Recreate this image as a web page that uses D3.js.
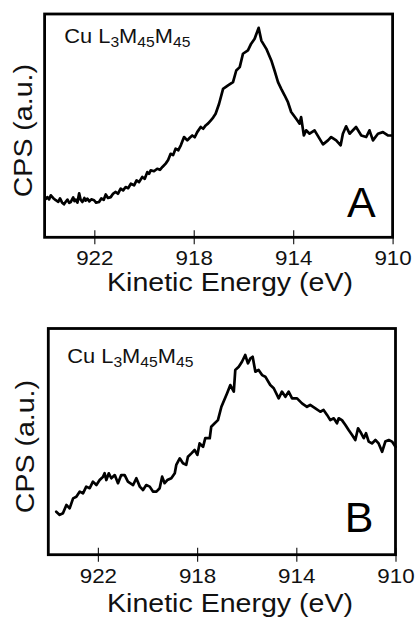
<!DOCTYPE html>
<html>
<head>
<meta charset="utf-8">
<script src="https://cdn.jsdelivr.net/npm/d3@7"></script>
<style>
  html, body { margin: 0; padding: 0; background: #fff; }
  svg { display: block; }
</style>
</head>
<body>
<svg id="fig" width="417" height="621"></svg>
<script>
// Cu L3M45M45 Auger spectra, two samples (A, B)
const energyTicks = [922, 918, 914, 910];
const energyDomain = [924, 910];
const panelLetters = ["A", "B"];
const xTitle = "Kinetic Energy (eV)";
const yTitle = "CPS (a.u.)";

// Panel A: kinetic energy (eV) and intensity (arbitrary units)
const energyA = [923.95, 923.89, 923.82, 923.75, 923.65, 923.55, 923.45, 923.38, 923.30, 923.22,
  923.15, 923.08, 923.01, 922.95, 922.85, 922.80, 922.75, 922.68, 922.61, 922.55,
  922.48, 922.40, 922.35, 922.28, 922.20, 922.12, 922.01, 921.93, 921.81, 921.72,
  921.62, 921.54, 921.45, 921.34, 921.24, 921.14, 921.05, 920.94, 920.84, 920.74,
  920.64, 920.53, 920.40, 920.30, 920.20, 920.07, 919.97, 919.87, 919.80, 919.73,
  919.60, 919.47, 919.36, 919.26, 919.13, 919.03, 918.93, 918.83, 918.73, 918.62,
  918.52, 918.39, 918.26, 918.16, 918.06, 917.96, 917.86, 917.72, 917.62, 917.52,
  917.42, 917.32, 917.22, 917.12, 916.98, 916.82, 916.62, 916.42, 916.29, 916.15,
  916.02, 915.82, 915.69, 915.55, 915.39, 915.28, 915.08, 914.88, 914.75, 914.61,
  914.48, 914.34, 914.21, 914.08, 913.88, 913.74, 913.68, 913.57, 913.48, 913.34,
  913.14, 912.94, 912.80, 912.60, 912.47, 912.27, 912.09, 912.00, 911.87, 911.73,
  911.47, 911.26, 911.06, 910.93, 910.79, 910.59, 910.39, 910.19, 910.00];
const cpsA = [17.2, 18.0, 17.0, 18.8, 17.5, 16.6, 15.9, 17.4, 15.6, 14.8,
  15.9, 16.9, 15.4, 15.8, 17.9, 16.2, 16.9, 15.5, 19.7, 16.8,
  15.8, 17.6, 16.4, 17.3, 16.1, 17.0, 16.6, 15.5, 15.8, 17.4,
  16.8, 19.2, 17.6, 18.0, 19.6, 20.3, 19.5, 21.8, 21.0, 22.5,
  22.0, 24.0, 23.3, 25.5, 24.7, 27.0, 26.2, 29.2, 28.4, 30.0,
  29.6, 30.7, 30.2, 31.5, 33.0, 34.6, 37.4, 36.8, 39.7, 39.0,
  41.2, 44.9, 43.4, 44.6, 45.6, 44.8, 47.1, 49.4, 48.6, 50.1,
  51.0, 52.3, 53.6, 55.3, 59.8, 66.5, 68.0, 69.5, 74.7, 76.2,
  82.2, 83.7, 86.7, 88.9, 93.8, 88.1, 84.4, 79.2, 74.7, 69.5,
  66.5, 63.5, 60.5, 56.1, 53.1, 50.9, 53.8, 45.6, 47.9, 46.4,
  47.9, 44.2, 41.6, 43.4, 44.9, 43.4, 41.2, 46.4, 49.7, 46.4,
  49.4, 45.6, 44.9, 47.9, 43.4, 46.4, 47.1, 45.6, 45.6];

// Panel B: kinetic energy (eV) and intensity (arbitrary units)
const energyB = [923.68, 923.54, 923.41, 923.27, 923.14, 923.00, 922.87, 922.73, 922.60, 922.47,
  922.33, 922.20, 922.06, 921.93, 921.79, 921.73, 921.66, 921.56, 921.46, 921.32,
  921.19, 921.06, 920.92, 920.79, 920.58, 920.45, 920.31, 920.18, 920.05, 919.91,
  919.78, 919.64, 919.51, 919.41, 919.31, 919.20, 919.04, 918.90, 918.84, 918.70,
  918.57, 918.44, 918.37, 918.23, 918.10, 917.99, 917.90, 917.76, 917.67, 917.49,
  917.43, 917.29, 917.16, 917.02, 916.79, 916.66, 916.52, 916.46, 916.32, 916.19,
  916.06, 915.95, 915.85, 915.76, 915.65, 915.52, 915.38, 915.25, 915.05, 914.91,
  914.71, 914.58, 914.44, 914.31, 914.17, 913.97, 913.77, 913.57, 913.44, 913.23,
  913.03, 912.90, 912.76, 912.63, 912.49, 912.36, 912.29, 912.16, 912.02, 911.89,
  911.75, 911.62, 911.51, 911.42, 911.28, 911.19, 911.08, 910.95, 910.81, 910.68,
  910.54, 910.41, 910.27, 910.14, 910.00];
const cpsB = [19.0, 17.6, 18.3, 22.0, 20.5, 24.9, 25.6, 27.9, 27.1, 30.1,
  29.4, 32.3, 30.8, 33.0, 34.5, 36.0, 33.0, 36.0, 33.8, 35.2,
  31.6, 35.2, 35.2, 32.3, 30.8, 33.8, 30.1, 28.6, 30.8, 30.1,
  27.9, 27.9, 29.4, 34.5, 31.6, 33.0, 33.8, 36.0, 39.7, 42.6,
  40.4, 39.7, 43.3, 44.8, 46.3, 44.1, 49.2, 47.7, 51.5, 51.5,
  56.6, 58.1, 59.5, 65.4, 71.4, 75.0, 72.1, 81.7, 83.1, 85.3,
  88.3, 84.6, 86.8, 87.5, 80.9, 81.7, 79.4, 78.7, 75.0, 73.6,
  69.1, 72.1, 69.8, 72.1, 69.1, 69.1, 66.9, 65.4, 66.2, 64.7,
  63.2, 64.0, 61.8, 59.5, 60.3, 58.1, 60.3, 59.5, 57.3, 55.1,
  52.9, 50.7, 55.9, 54.4, 51.5, 53.7, 50.0, 49.2, 50.7, 49.2,
  45.5, 50.0, 50.7, 50.0, 47.7];

const FONT = "'Liberation Sans', Arial, Helvetica, sans-serif";
const WIDEN = 1.12; // horizontal widening of the label lettering

const svg = d3.select("#fig");

// Text placed with a horizontal widening about its anchor point
function wideText(parent, x, y, str, size, anchor, rotate) {
  const t = parent.append("text")
    .attr("transform", `translate(${x},${y})` + (rotate ? ` rotate(${rotate})` : "") + ` scale(${WIDEN},1)`)
    .attr("font-family", FONT)
    .attr("font-size", size)
    .attr("text-anchor", anchor)
    .attr("fill", "#111");
  if (str !== null) t.text(str);
  return t;
}

function drawPanel(p) {
  const g = svg.append("g");
  const x = d3.scaleLinear().domain(energyDomain).range([p.left, p.left + p.width]);
  const y = d3.scaleLinear().domain([0, 100]).range([p.top + p.height, p.top]);
  const bottom = p.top + p.height;

  // spectrum
  const pts = d3.zip(p.energy, p.cps);
  g.append("path")
    .datum(pts)
    .attr("fill", "none")
    .attr("stroke", "#000")
    .attr("stroke-width", 2.7)
    .attr("stroke-linejoin", "round")
    .attr("stroke-linecap", "round")
    .attr("d", d3.line().x(d => x(d[0])).y(d => y(d[1])));

  // bottom axis with ticks crossing the frame line
  const axis = d3.axisBottom(x).tickValues(energyTicks).tickFormat(d3.format("d"))
    .tickSizeInner(7).tickSizeOuter(0).tickPadding(0);
  const ag = g.append("g").attr("transform", `translate(0,${bottom})`).call(axis);
  ag.select(".domain").remove();
  ag.selectAll(".tick line").attr("y1", -7).attr("y2", 7).attr("stroke", "#222").attr("stroke-width", 1.2);
  ag.selectAll(".tick text")
    .attr("y", p.tickBase).attr("dy", 0)
    .attr("transform", `scale(${WIDEN},1)`)
    .attr("font-family", FONT).attr("font-size", 20).attr("fill", "#111");

  // frame
  g.append("rect")
    .attr("x", p.left).attr("y", p.top)
    .attr("width", p.width).attr("height", p.height)
    .attr("fill", "none").attr("stroke", "#000").attr("stroke-width", 2.8);

  // transition label with subscripts
  const lab = wideText(g, p.left + p.labDx, p.top + p.labDy, null, 19.5, "start");
  const parts = [["Cu L", 0], ["3", 1], ["M", 0], ["45", 1], ["M", 0], ["45", 1]];
  let shift = 0;
  parts.forEach(([s, sub]) => {
    const dy = sub ? 4 - shift : -shift;
    shift += dy;
    lab.append("tspan").attr("dy", dy).attr("font-size", sub ? 14 : 19.5).text(s);
  });

  // panel letter
  g.append("text")
    .attr("x", p.left + p.width - p.letterDx).attr("y", p.top + p.letterDy)
    .attr("text-anchor", "end")
    .attr("font-family", FONT).attr("font-size", 43).attr("fill", "#000")
    .text(p.letter);

  // axis titles
  wideText(g, 230, bottom + p.titleBase, xTitle, 25.5, "middle");
  wideText(g, p.yTitleX, p.top + p.height / 2 + 5, yTitle, 25.5, "middle", -90);
}

const panels = [
  { energy: energyA, cps: cpsA, letter: panelLetters[0], left: 44.6, top: 14, width: 348, height: 223.3,
    tickBase: 28, titleBase: 54, labDx: 19.7, labDy: 28.5, letterDx: 17, letterDy: 203, yTitleX: 32 },
  { energy: energyB, cps: cpsB, letter: panelLetters[1], left: 48.3, top: 328.5, width: 347.2, height: 226.2,
    tickBase: 28.5, titleBase: 57, labDx: 19, labDy: 34.5, letterDx: 22, letterDy: 203, yTitleX: 34 }
];
panels.forEach(drawPanel);
</script>
</body>
</html>
